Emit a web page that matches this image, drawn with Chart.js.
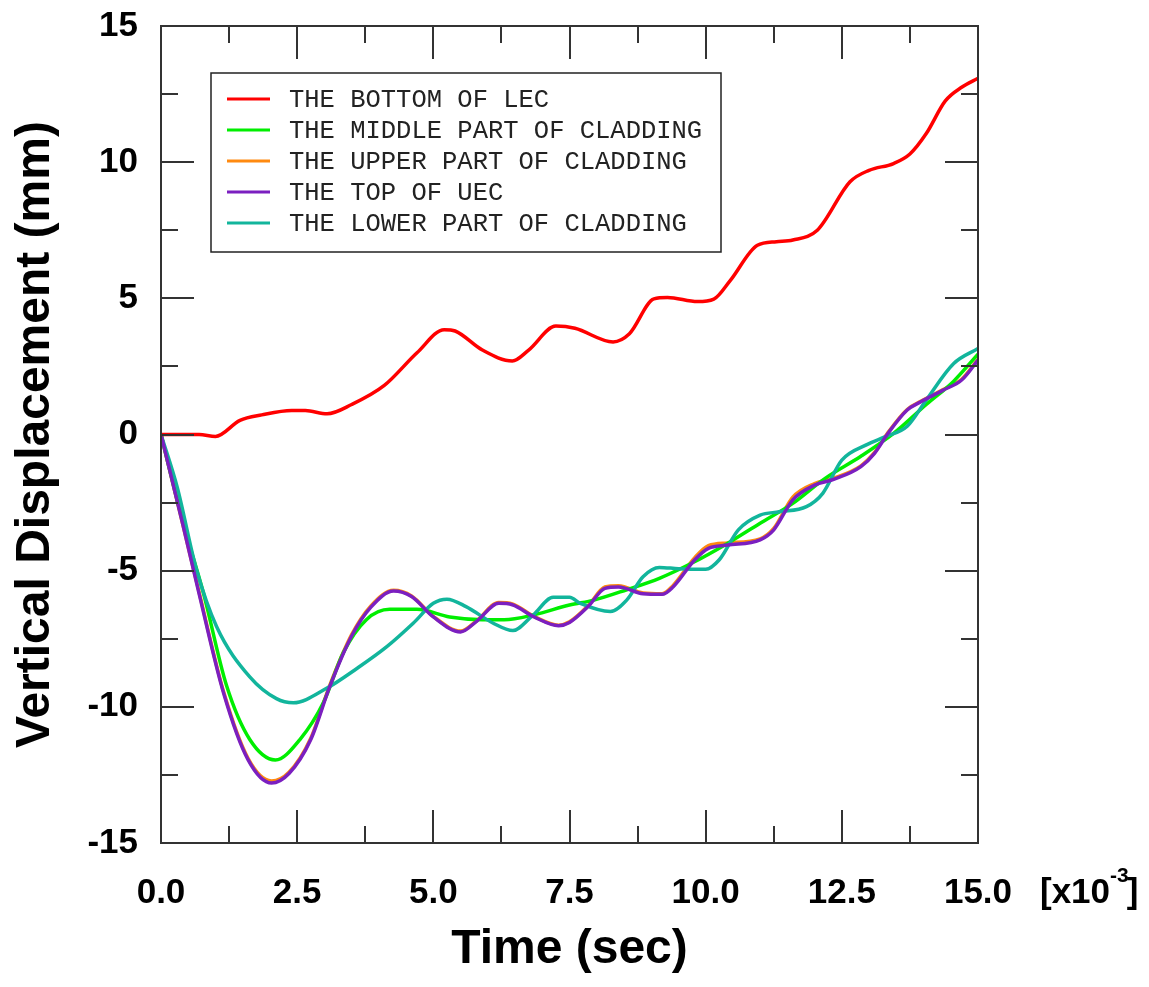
<!DOCTYPE html>
<html>
<head>
<meta charset="utf-8">
<script src="https://cdn.jsdelivr.net/npm/chart.js@4.4.1/dist/chart.umd.min.js"></script>
<style>
  html, body { margin: 0; padding: 0; background: #fff; }
  #wrap { width: 1149px; height: 987px; }
</style>
</head>
<body>
<div id="wrap"><canvas id="chart1" width="1149" height="987"></canvas></div>
<script>
// time in ms (axis shows [x10^-3] sec), displacement in mm
var tBottomLEC = [0, 0.7, 1.0, 1.45, 1.85, 2.4, 2.65, 3.05, 3.5, 4.1, 4.7, 5.2, 5.4, 5.9, 6.45, 6.75, 7.25, 7.6, 8.3, 8.6, 9.05, 9.3, 9.85, 10.15, 10.45, 10.95, 11.3, 11.6, 12.05, 12.65, 13.0, 13.45, 13.75, 14.05, 14.4, 14.7, 15.0];
var vBottomLEC = [0, 0, -0.07, 0.52, 0.72, 0.88, 0.88, 0.76, 1.1, 1.8, 3.0, 3.85, 3.8, 3.1, 2.7, 3.1, 3.98, 3.9, 3.4, 3.7, 4.98, 5.03, 4.88, 4.97, 5.65, 6.95, 7.08, 7.14, 7.5, 9.28, 9.7, 9.95, 10.3, 11.05, 12.25, 12.75, 13.08];

var tMiddle = [0, 0.4, 0.78, 1.2, 1.63, 2.1, 2.55, 2.98, 3.35, 3.77, 4.2, 4.7, 5.3, 5.9, 6.3, 6.85, 7.5, 7.95, 8.55, 9.15, 9.75, 10.4, 11.0, 11.6, 12.2, 12.85, 13.45, 14.05, 14.55, 15.0];
var vMiddle = [0, -3.2, -5.83, -9.2, -11.2, -11.95, -11.2, -9.85, -8.0, -6.8, -6.42, -6.42, -6.7, -6.8, -6.8, -6.62, -6.26, -6.08, -5.7, -5.28, -4.72, -4.0, -3.26, -2.53, -1.6, -0.8, 0.04, 1.1, 1.95, 2.95];

var tUpper = [0, 0.4, 0.7, 1.15, 1.6, 2.03, 2.35, 2.75, 3.1, 3.5, 3.85, 4.27, 4.6, 5.0, 5.5, 5.8, 6.2, 6.45, 6.85, 7.3, 7.5, 7.85, 8.15, 8.4, 8.85, 9.2, 9.4, 9.8, 10.05, 10.4, 11.0, 11.25, 11.6, 12.0, 12.35, 12.85, 13.1, 13.35, 13.7, 13.95, 14.35, 14.7, 15.0];
var vUpper = [0, -3.3, -5.8, -9.45, -11.9, -12.72, -12.4, -11.15, -9.2, -7.35, -6.3, -5.72, -5.93, -6.68, -7.22, -6.83, -6.17, -6.22, -6.68, -7.0, -6.88, -6.27, -5.6, -5.55, -5.82, -5.85, -5.55, -4.52, -4.08, -3.98, -3.83, -3.45, -2.3, -1.8, -1.6, -1.15, -0.66, 0.08, 0.92, 1.22, 1.64, 2.03, 2.76];

var tTopUEC = [0, 0.4, 0.7, 1.15, 1.6, 2.03, 2.35, 2.75, 3.1, 3.5, 3.85, 4.27, 4.6, 5.0, 5.5, 5.8, 6.2, 6.45, 6.85, 7.3, 7.5, 7.85, 8.15, 8.4, 8.85, 9.2, 9.4, 9.8, 10.05, 10.4, 11.0, 11.25, 11.6, 12.0, 12.35, 12.85, 13.1, 13.35, 13.7, 13.95, 14.35, 14.7, 15.0];
var vTopUEC = [0, -3.3, -5.85, -9.5, -11.95, -12.8, -12.45, -11.2, -9.25, -7.4, -6.35, -5.75, -5.95, -6.7, -7.25, -6.85, -6.2, -6.25, -6.7, -7.02, -6.9, -6.3, -5.65, -5.6, -5.85, -5.87, -5.6, -4.6, -4.18, -4.06, -3.87, -3.5, -2.4, -1.86, -1.65, -1.18, -0.69, 0.05, 0.9, 1.2, 1.62, 2.0, 2.73];

var tLower = [0, 0.3, 0.65, 1.02, 1.63, 2.12, 2.43, 3.04, 3.59, 4.14, 4.63, 5.0, 5.25, 5.6, 6.1, 6.46, 6.83, 7.2, 7.5, 7.7, 8.25, 8.55, 8.85, 9.15, 9.5, 10.0, 10.25, 10.6, 11.0, 11.35, 11.85, 12.15, 12.5, 12.95, 13.3, 13.7, 14.05, 14.55, 15.0];
var vLower = [0, -1.95, -4.95, -7.05, -8.9, -9.7, -9.85, -9.32, -8.6, -7.8, -6.93, -6.2, -6.05, -6.32, -6.93, -7.2, -6.63, -5.98, -5.98, -6.2, -6.5, -6.08, -5.22, -4.88, -4.93, -4.95, -4.6, -3.5, -2.96, -2.84, -2.65, -2.16, -0.94, -0.38, -0.08, 0.3, 1.27, 2.6, 3.16];

var seriesLabels = ['THE BOTTOM OF LEC', 'THE MIDDLE PART OF CLADDING', 'THE UPPER PART OF CLADDING', 'THE TOP OF UEC', 'THE LOWER PART OF CLADDING'];
var xTicks = [0, 2.5, 5, 7.5, 10, 12.5, 15];
var yTicks = [-15, -10, -5, 0, 5, 10, 15];

function pts(t, v) {
    return t.map(function (x, i) { return { x: x, y: v[i] }; });
}

function line(label, t, v, color, order) {
    return {
        label: label,
        data: pts(t, v),
        borderColor: color,
        backgroundColor: color,
        borderWidth: 3.5,
        pointRadius: 0,
        cubicInterpolationMode: 'monotone',
        order: order
    };
}

var AXIS_COLOR = '#333';

// frame + inward ticks on all four sides
var framePlugin = {
    id: 'frame',
    afterDatasetsDraw: function (chart) {
        var a = chart.chartArea, ctx = chart.ctx;
        var xs = chart.scales.x, ys = chart.scales.y;
        ctx.save();
        ctx.strokeStyle = AXIS_COLOR;
        ctx.lineWidth = 2;
        ctx.strokeRect(a.left, a.top, a.right - a.left, a.bottom - a.top);
        ctx.beginPath();
        for (var xv = 0; xv <= 15.001; xv += 1.25) {
            var px = Math.round(xs.getPixelForValue(xv));
            var len = (Math.abs(xv / 2.5 - Math.round(xv / 2.5)) < 1e-6) ? 33 : 17;
            ctx.moveTo(px, a.bottom); ctx.lineTo(px, a.bottom - len);
            ctx.moveTo(px, a.top); ctx.lineTo(px, a.top + len);
        }
        for (var yv = -15; yv <= 15; yv += 2.5) {
            var py = Math.round(ys.getPixelForValue(yv));
            var ylen = (yv % 5 === 0) ? 33 : 17;
            ctx.moveTo(a.left, py); ctx.lineTo(a.left + ylen, py);
            ctx.moveTo(a.right, py); ctx.lineTo(a.right - ylen, py);
        }
        ctx.stroke();
        ctx.restore();
    },
    afterDraw: function (chart) {
        var a = chart.chartArea, ctx = chart.ctx;
        ctx.save();
        // legend box
        var bx = a.left + 50, by = a.top + 47, bw = 510, bh = 179;
        ctx.strokeStyle = '#222';
        ctx.lineWidth = 1.5;
        ctx.strokeRect(bx, by, bw, bh);
        ctx.font = '25.5px "Liberation Mono", "DejaVu Sans Mono", monospace';
        ctx.textBaseline = 'middle';
        chart.data.datasets.forEach(function (ds, i) {
            var y = by + 26 + i * 31;
            ctx.strokeStyle = ds.borderColor;
            ctx.lineWidth = 3;
            ctx.beginPath();
            ctx.moveTo(bx + 16, y); ctx.lineTo(bx + 59, y);
            ctx.stroke();
            ctx.fillStyle = '#222';
            ctx.fillText(ds.label, bx + 78, y + 1);
        });
        // [x10^-3] multiplier next to x tick labels
        ctx.fillStyle = '#000';
        ctx.textBaseline = 'middle';
        ctx.font = 'bold 35px "Liberation Sans", Arial, sans-serif';
        var mx = 1040, my = 893;
        ctx.fillText('[x10', mx, my);
        var w = ctx.measureText('[x10').width;
        ctx.font = 'bold 21px "Liberation Sans", Arial, sans-serif';
        ctx.fillText('-3', mx + w, my - 17);
        var w2 = ctx.measureText('-3').width;
        ctx.font = 'bold 35px "Liberation Sans", Arial, sans-serif';
        ctx.fillText(']', mx + w + w2 - 2, my);
        ctx.restore();
    }
};

document.addEventListener('DOMContentLoaded', function () {
    var ctx = document.getElementById('chart1').getContext('2d');

    new Chart(ctx, {
        type: 'line',
        data: {
            datasets: [
                line(seriesLabels[0], tBottomLEC, vBottomLEC, '#ff0000', 0),
                line(seriesLabels[1], tMiddle, vMiddle, '#00ee00', 3),
                line(seriesLabels[2], tUpper, vUpper, '#ff8a10', 4),
                line(seriesLabels[3], tTopUEC, vTopUEC, '#7b1fc0', 1),
                line(seriesLabels[4], tLower, vLower, '#12b59c', 2)
            ]
        },
        options: {
            responsive: false,
            animation: false,
            events: [],
            layout: { padding: { left: 0, right: 171, top: 26, bottom: 0 } },
            plugins: {
                legend: { display: false },
                tooltip: { enabled: false }
            },
            scales: {
                x: {
                    type: 'linear',
                    min: 0,
                    max: 15,
                    afterFit: function (s) {
                        s.height = 144;
                        s.paddingLeft = 0; s.paddingRight = 0;
                    },
                    afterBuildTicks: function (s) {
                        s.ticks = xTicks.map(function (v) { return { value: v }; });
                    },
                    grid: { display: false, drawTicks: false },
                    border: { display: false },
                    ticks: {
                        padding: 29,
                        color: '#000',
                        maxRotation: 0,
                        font: { family: '"Liberation Sans", Arial, sans-serif', size: 35, weight: 'bold' },
                        callback: function (v) { return Number(v).toFixed(1); }
                    },
                    title: {
                        display: true,
                        text: 'Time (sec)',
                        color: '#000',
                        padding: { top: 0, bottom: 8 },
                        font: { family: '"Liberation Sans", Arial, sans-serif', size: 48, weight: 'bold' }
                    }
                },
                y: {
                    type: 'linear',
                    min: -15,
                    max: 15,
                    afterFit: function (s) {
                        s.width = 161;
                        s.paddingTop = 0; s.paddingBottom = 0;
                    },
                    afterBuildTicks: function (s) {
                        s.ticks = yTicks.map(function (v) { return { value: v }; });
                    },
                    grid: { display: false, drawTicks: false },
                    border: { display: false },
                    ticks: {
                        padding: 23,
                        color: '#000',
                        font: { family: '"Liberation Sans", Arial, sans-serif', size: 35, weight: 'bold' }
                    },
                    title: {
                        display: true,
                        text: 'Vertical Displacement (mm)',
                        color: '#000',
                        padding: { top: 7, bottom: 0 },
                        font: { family: '"Liberation Sans", Arial, sans-serif', size: 48, weight: 'bold' }
                    }
                }
            }
        },
        plugins: [framePlugin]
    });
});
</script>
</body>
</html>
